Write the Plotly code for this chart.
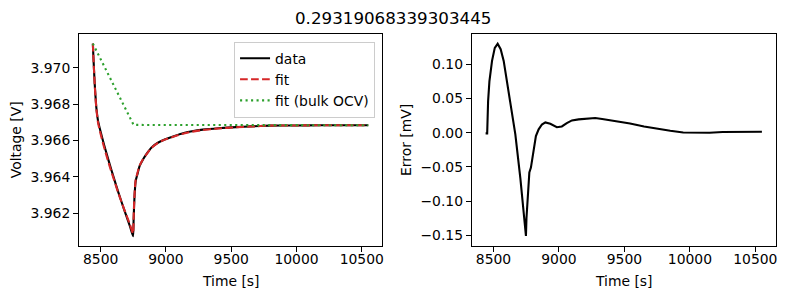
import plotly.graph_objects as go

# ---- data ----
v_t = [8440, 8444, 8449, 8454, 8460, 8467, 8480, 8498, 8518, 8540,
       8569, 8600, 8632, 8665, 8697, 8725, 8748, 8752, 8756, 8760,
       8768, 8781, 8798, 8824, 8849, 8888, 8938, 8990, 9066, 9137,
       9200, 9282, 9400, 9537, 9650, 9792, 10000, 10174, 10350, 10550]
v_data = [3.97132, 3.97060, 3.96985, 3.96912, 3.96845, 3.96778, 3.96706, 3.96651, 3.96596, 3.96540,
          3.96468, 3.96395, 3.96321, 3.96250, 3.96183, 3.96125, 3.96073, 3.96156, 3.96240, 3.96303,
          3.96376, 3.96413, 3.96458, 3.96495, 3.96523, 3.96560, 3.96587, 3.96605, 3.96624, 3.96640,
          3.96650, 3.96659, 3.96667, 3.96673, 3.96677, 3.96681, 3.96682, 3.96683, 3.96683, 3.96683]
v_fit = [3.97132, 3.97060, 3.96983, 3.96909, 3.96840, 3.96771, 3.96696, 3.96639, 3.96583, 3.96527,
         3.96457, 3.96388, 3.96317, 3.96250, 3.96189, 3.96135, 3.96088, 3.96169, 3.96251, 3.96312,
         3.96383, 3.96419, 3.96461, 3.96496, 3.96522, 3.96558, 3.96586, 3.96604, 3.96622, 3.96638,
         3.96648, 3.96657, 3.96665, 3.96672, 3.96676, 3.96681, 3.96682, 3.96683, 3.96683, 3.96683]
bulk_t = [8440, 8752, 10550]
bulk_v = [3.97132, 3.96685, 3.96683]

err_t = [8440, 8452, 8459, 8469, 8489, 8510, 8532, 8555, 8578, 8616,
         8640, 8667, 8705, 8748, 8752, 8763, 8769, 8774, 8786, 8807,
         8824, 8845, 8870, 8896, 8934, 8984, 9022, 9060, 9099, 9150,
         9226, 9277, 9330, 9400, 9480, 9543, 9650, 9746, 9850, 9949, 10050,
         10150, 10250, 10350, 10450, 10550]
err_mv = [-0.001, -0.001, 0.046, 0.075, 0.105, 0.124, 0.130, 0.122, 0.105, 0.061,
          0.031, -0.0025, -0.066, -0.151, -0.125, -0.090, -0.061, -0.058, -0.051, -0.022,
          -0.005, 0.005, 0.012, 0.0150, 0.013, 0.0080, 0.0092, 0.014, 0.018, 0.0195,
          0.021, 0.0215, 0.020, 0.018, 0.0155, 0.0135, 0.009, 0.0058, 0.0028, 0.0003, -0.0003,
          0.0, 0.001, 0.0015, 0.0015, 0.0015]

title_text = "0.29319068339303445"
x_ticks = [8500, 9000, 9500, 10000, 10500]
x_ticklabels = ["8500", "9000", "9500", "10000", "10500"]
v_ticks = [3.962, 3.964, 3.966, 3.968, 3.970]
e_ticks = [-0.15, -0.10, -0.05, 0.00, 0.05, 0.10]

W, H = 788, 299
FONT = "DejaVu Sans"
FS = 13.9

fig = go.Figure()
fig.add_trace(go.Scatter(x=v_t, y=v_data, mode="lines", name="data",
                         line=dict(color="#000000", width=2.1, shape="spline", smoothing=0.5),
                         xaxis="x", yaxis="y"))
fig.add_trace(go.Scatter(x=v_t, y=v_fit, mode="lines", name="fit",
                         line=dict(color="#d62728", width=2.1, dash="7.7px,3.3px", shape="spline", smoothing=0.5),
                         xaxis="x", yaxis="y"))
fig.add_trace(go.Scatter(x=bulk_t, y=bulk_v, mode="lines", name="fit (bulk OCV)",
                         line=dict(color="#2ca02c", width=2.1, dash="2.1px,3.4px"), xaxis="x", yaxis="y"))
fig.add_trace(go.Scatter(x=err_t, y=err_mv, mode="lines", showlegend=False,
                         line=dict(color="#000000", width=2.1), xaxis="x2", yaxis="y2"))

def px_x(p):
    return p / W

def px_y(p):
    return 1 - p / H

xr = [8334.5, 10655.5]
common = dict(showline=True, mirror=True, linecolor="black", linewidth=1,
              ticks="outside", ticklen=5, tickwidth=1, tickcolor="black",
              showgrid=False, zeroline=False,
              tickfont=dict(family=FONT, size=FS, color="black"))

d1 = [px_x(79.3), px_x(383)]
d2 = [px_x(473), px_x(777.7)]
dy = [px_y(246), px_y(34)]

fig.update_layout(
    width=W, height=H,
    margin=dict(l=0, r=0, t=0, b=0),
    paper_bgcolor="white", plot_bgcolor="white",
    font=dict(family=FONT, size=FS, color="black"),
    xaxis=dict(domain=d1, range=xr, tickvals=x_ticks, ticktext=x_ticklabels, anchor="y",
               ticklabelstandoff=-5, **common),
    yaxis=dict(domain=dy, range=[3.96019, 3.97185], tickvals=v_ticks, tickformat=".3f", anchor="x", **common),
    xaxis2=dict(domain=d2, range=xr, tickvals=x_ticks, ticktext=x_ticklabels, anchor="y2",
                ticklabelstandoff=-5, **common),
    yaxis2=dict(domain=dy, range=[-0.1656, 0.1443], tickvals=e_ticks, tickformat=".2f", anchor="x2", **common),
    legend=dict(x=px_x(376), y=px_y(41.7), xanchor="right", yanchor="top",
                bgcolor="rgba(255,255,255,0.8)", bordercolor="#cccccc", borderwidth=1,
                font=dict(family=FONT, size=FS, color="black")),
    showlegend=True,
)

annos = [
    dict(text=title_text, x=0.5, y=px_y(18), font=dict(size=16.7)),
    dict(text="Time [s]", x=(d1[0] + d1[1]) / 2, y=px_y(281)),
    dict(text="Time [s]", x=(d2[0] + d2[1]) / 2, y=px_y(281)),
    dict(text="Voltage [V]", x=px_x(16.3), y=px_y(140), textangle=-90),
    dict(text="Error [mV]", x=px_x(407), y=px_y(140), textangle=-90),
]
for a in annos:
    fig.add_annotation(xref="paper", yref="paper", showarrow=False,
                       xanchor="center", yanchor="middle",
                       font=dict(family=FONT, size=a.pop("font", {}).get("size", FS), color="black"),
                       **a)

fig.write_html("out.html")
